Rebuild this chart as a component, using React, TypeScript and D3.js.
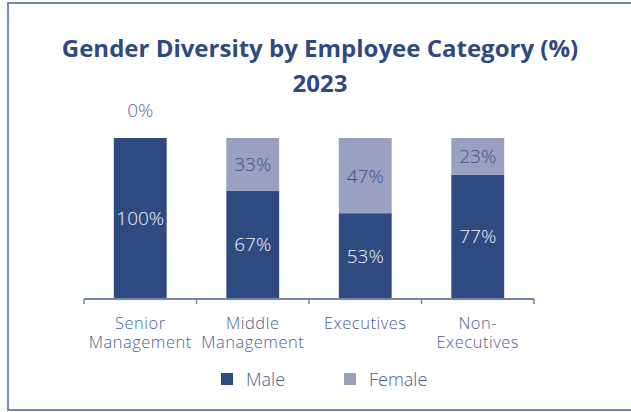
import React from "react";
import * as d3 from "d3";

const categories: string[][] = [
  ["Senior", "Management"],
  ["Middle", "Management"],
  ["Executives"],
  ["Non-", "Executives"],
];
const categoryKeys = ["Senior Management", "Middle Management", "Executives", "Non-Executives"];
const maleValues = [100, 67, 53, 77];
const femaleValues = [0, 33, 47, 23];
const seriesNames = ["Male", "Female"];
const titleLines = ["Gender Diversity by Employee Category (%)", "2023"];

const W = 631;
const H = 412;
const MALE = "#2f4a80";
const FEMALE = "#9b9fc0";
const TEXT = "#4d5f8e";
const FONT = "'Open Sans', sans-serif";

export default function App() {
  const x = d3
    .scaleBand<string>()
    .domain(categoryKeys)
    .range([84, 534])
    .paddingInner(0.53)
    .paddingOuter(0.265);
  const y = d3.scaleLinear().domain([0, 100]).range([298, 138]);
  const step = x.step();
  const bw = x.bandwidth();
  const ticks = d3.range(categoryKeys.length + 1).map((i) => 84 + i * step);

  return (
    <svg
      width={W}
      height={H}
      style={{ position: "absolute", left: 0, top: 0, display: "block" }}
    >
      <rect x={0} y={0} width={W} height={H} fill="#ffffff" />
      <rect x={8} y={3} width={W} height={407} fill="none" stroke="#4a6090" strokeWidth={1.5} />
      {titleLines.map((t, i) => (
        <text
          key={i}
          x={320}
          y={57 + i * 35}
          textAnchor="middle"
          fontFamily={FONT}
          fontWeight={700}
          fontSize={24}
          fill={MALE}
        >
          {t}
        </text>
      ))}
      {categoryKeys.map((k, i) => {
        const x0 = x(k)!;
        const m = maleValues[i];
        const f = femaleValues[i];
        const cx = x0 + bw / 2;
        return (
          <g key={k}>
            <rect x={x0} y={y(m)} width={bw} height={y(0) - y(m)} fill={MALE} />
            {f > 0 && (
              <rect x={x0} y={y(m + f)} width={bw} height={y(m) - y(m + f)} fill={FEMALE} />
            )}
            <text
              x={cx}
              y={(y(0) + y(m)) / 2 + 7}
              textAnchor="middle"
              fontFamily={FONT}
              fontWeight={300}
              fontSize={19}
              fill="#f2f3f8"
            >
              {m}%
            </text>
            <text
              x={cx}
              y={f > 0 ? (y(m) + y(m + f)) / 2 + 7 : y(m) - 21}
              textAnchor="middle"
              fontFamily={FONT}
              fontWeight={300}
              fontSize={19}
              fill={f > 0 ? "#3d5184" : "#5a6a93"}
            >
              {f}%
            </text>
          </g>
        );
      })}
      <line x1={84} x2={534} y1={299} y2={299} stroke="#7584a8" strokeWidth={2} />
      {ticks.map((t, i) => (
        <line key={i} x1={t} x2={t} y1={299} y2={304} stroke="#7584a8" strokeWidth={1.5} />
      ))}
      {categoryKeys.map((k, i) =>
        categories[i].map((line, j) => (
          <text
            key={k + j}
            x={x(k)! + bw / 2}
            y={329 + j * 18.5}
            textAnchor="middle"
            fontFamily={FONT}
            fontWeight={300}
            fontSize={16.5}
            letterSpacing={0.5}
            fill={TEXT}
          >
            {line}
          </text>
        ))
      )}
      {seriesNames.map((s, i) => (
        <g key={s} transform={`translate(${221 + i * 123},373)`}>
          <rect x={0} y={0} width={12} height={12} fill={i === 0 ? MALE : FEMALE} />
          <text x={25} y={13} fontFamily={FONT} fontWeight={300} fontSize={18} fill={TEXT}>
            {s}
          </text>
        </g>
      ))}
    </svg>
  );
}
